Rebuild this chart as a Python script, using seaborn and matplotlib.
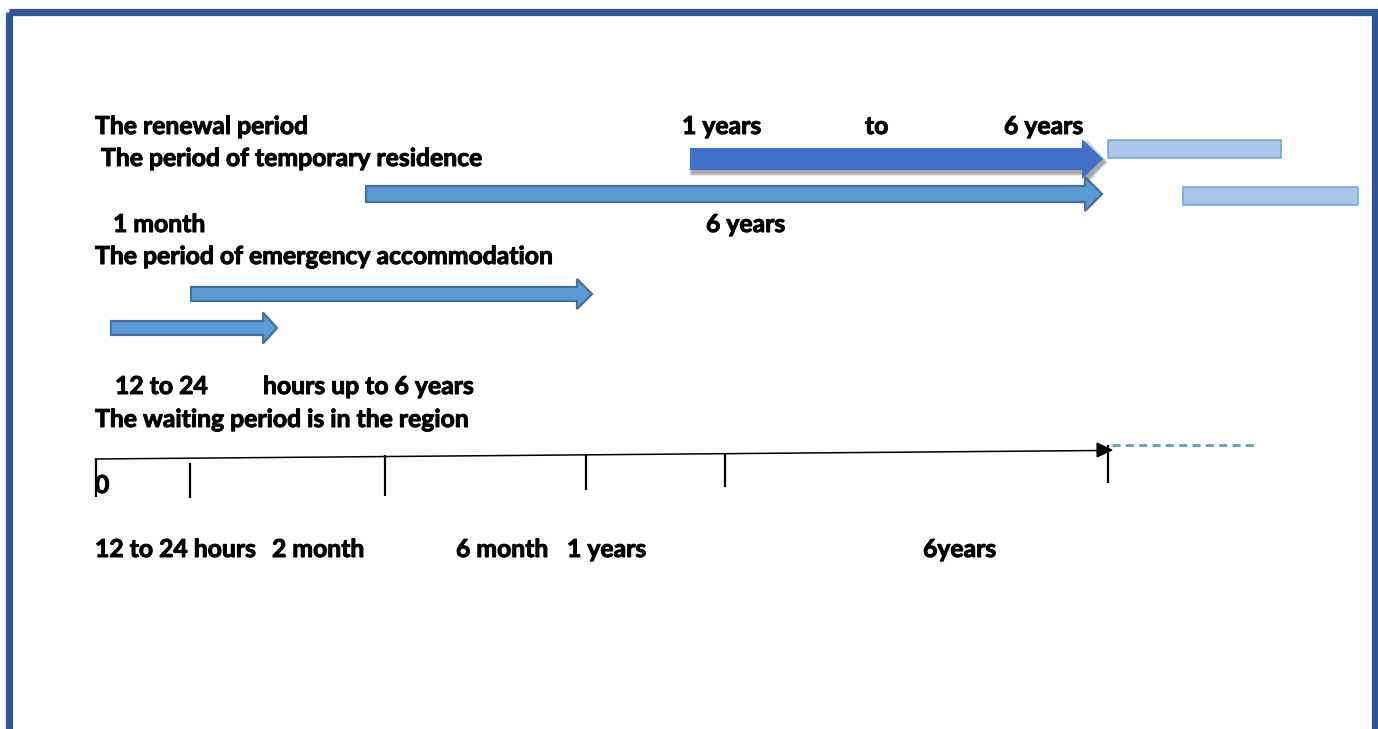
import numpy as np
import pandas as pd
import matplotlib
matplotlib.use("Agg")
import matplotlib.pyplot as plt
from matplotlib.patches import Polygon, Rectangle
import matplotlib.patheffects as pe
import seaborn as sns

# ---------------- data (diagram units) ----------------
# arrows: name, start, tip, centre row
arrow_names = ["renewal", "temporary", "emergency_long", "emergency_short"]
arrow_start = [690, 366, 191, 111]
arrow_tip = [1103, 1102, 592, 277]
arrow_row = [159, 194, 294, 328]

# pale continuation bars
bar_start = [1108, 1183]
bar_end = [1281, 1358]
bar_row = [149, 196]

# waiting-period timeline
timeline_x = [95, 1100]
timeline_y = [459, 450.5]
tick_pos = [96, 190, 385, 586, 725, 1108]
tick_top = [459, 463, 455, 455, 453, 445]
tick_bottom = [497, 498, 496, 490, 487, 483]
dash_x = [1112, 1258]
dash_y = [445, 445]

# text labels: text, x, baseline
labels = [
    "The renewal period", " The period of temporary residence",
    "1 years", "to", "6 years",
    "1 month", "6 years",
    "The period of emergency accommodation",
    "12 to 24", "hours up to 6 years",
    "The waiting period is in the region",
    "0",
    "12 to 24 hours", "2 month", "6 month", "1 years", "6years",
]
label_x = [95, 95, 682, 865, 1004, 113, 706, 95, 115, 263, 95, 95,
           95, 272, 456, 567, 923]
label_y = [134, 166, 134, 134, 134, 232, 232, 264, 394, 394, 427, 493,
           557, 557, 557, 557, 557]

# ---------------- style ----------------
sns.set_theme(style="white")
plt.rcParams['font.family'] = ['Lato', 'DejaVu Sans']

fig = plt.figure(figsize=(13.78, 7.29), dpi=100)
ax = fig.add_axes([0, 0, 1, 1])
ax.set_xlim(0, 1378)
ax.set_ylim(729, 0)
ax.axis("off")

# frame
ax.add_patch(Rectangle((8.5, 11.5), 1366, 800, fill=False,
                       edgecolor="#2F5597", linewidth=5.2, zorder=1))

arrow_style = {
    "renewal": dict(shaft=11, head=20, hlen=21, fc="#4070C8", ec="none", lw=0, shadow=True),
    "temporary": dict(shaft=8, head=17, hlen=17, fc="#5B9BD5", ec="#41719C", lw=1.6, shadow=False),
    "emergency_long": dict(shaft=7, head=15, hlen=15, fc="#5B9BD5", ec="#41719C", lw=1.6, shadow=False),
    "emergency_short": dict(shaft=7, head=15.5, hlen=14, fc="#5B9BD5", ec="#41719C", lw=1.6, shadow=False),
}


def arrow_poly(x0, xt, yc, s, h, hl):
    xb = xt - hl
    return [(x0, yc - s), (xb, yc - s), (xb, yc - h), (xt, yc),
            (xb, yc + h), (xb, yc + s), (x0, yc + s)]


for name, x0, xt, yc in zip(arrow_names, arrow_start, arrow_tip, arrow_row):
    st = arrow_style[name]
    pts = arrow_poly(x0, xt, yc, st["shaft"], st["head"], st["hlen"])
    if st["shadow"]:
        for k, a in zip(range(6, 0, -1), [0.04, 0.05, 0.06, 0.07, 0.08, 0.09]):
            sp = [(px + 2, py + 3) for px, py in
                  arrow_poly(x0 - k * 0.5, xt + k * 0.5, yc, st["shaft"] + k * 0.6,
                             st["head"] + k * 0.6, st["hlen"])]
            ax.add_patch(Polygon(sp, closed=True, facecolor="black", edgecolor="none",
                                 alpha=a, zorder=2))
    ax.add_patch(Polygon(pts, closed=True, facecolor=st["fc"], edgecolor=st["ec"],
                         linewidth=st["lw"], joinstyle="miter", zorder=3))

# pale bars
for x0, x1, yc in zip(bar_start, bar_end, bar_row):
    ax.add_patch(Rectangle((x0, yc - 9), x1 - x0, 18, facecolor="#A9C6EA",
                           edgecolor="#6FA3DC", linewidth=1.1, zorder=3))

# timeline
tl = pd.DataFrame({"x": timeline_x, "y": timeline_y})
sns.lineplot(data=tl, x="x", y="y", ax=ax, color="black", linewidth=1.1,
             sort=False, estimator=None, zorder=4)
ax.add_patch(Polygon([(1097, 443), (1112, 450), (1097, 457)], closed=True,
                     facecolor="black", edgecolor="black", linewidth=0.8, zorder=5))
ax.vlines(tick_pos, tick_top, tick_bottom, color="black", linewidth=1.6, zorder=4)
ax.plot(dash_x, dash_y, color="#5B9BD5", linewidth=2.0, linestyle=(0, (2.9, 1.9)), zorder=4)

# text
for t, x, y in zip(labels, label_x, label_y):
    ax.text(x, y, t, fontsize=17.8, fontweight="bold", color="black",
            ha="left", va="baseline", zorder=6,
            path_effects=[pe.withStroke(linewidth=0.7, foreground="black")])

ax.set_xlabel("")
ax.set_ylabel("")
fig.savefig("out.png", dpi=100)
